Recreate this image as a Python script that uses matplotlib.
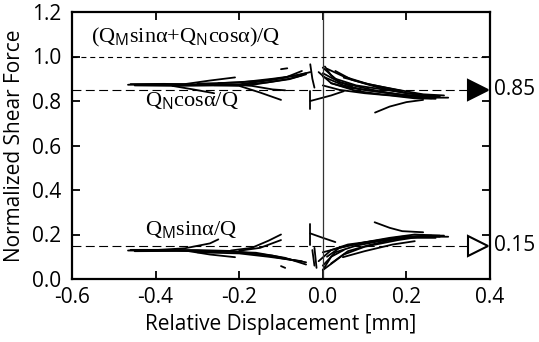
import matplotlib
matplotlib.use('Agg')
import matplotlib.pyplot as plt

# traced load paths, each curve = (displacement [mm], normalized shear force)
upper_left = [
    ([-0.466, -0.40, -0.30, -0.20, -0.12, -0.04], [0.873, 0.874, 0.872, 0.875, 0.895, 0.925]),
    ([-0.45, -0.35, -0.25, -0.17, -0.08, -0.05], [0.870, 0.868, 0.870, 0.872, 0.900, 0.915]),
    ([-0.46, -0.38, -0.30, -0.22], [0.876, 0.877, 0.875, 0.873]),
    ([-0.42, -0.33, -0.27, -0.21], [0.872, 0.876, 0.892, 0.906]),
    ([-0.36, -0.31, -0.26], [0.868, 0.852, 0.835]),
    ([-0.26, -0.20, -0.15, -0.10], [0.871, 0.868, 0.838, 0.805]),
    ([-0.22, -0.17, -0.12, -0.09], [0.874, 0.868, 0.852, 0.848]),
    ([-0.30, -0.20, -0.12, -0.06, -0.03], [0.878, 0.883, 0.900, 0.915, 0.930]),
    ([-0.25, -0.15, -0.09, -0.05], [0.880, 0.890, 0.905, 0.935]),
    ([-0.20, -0.13, -0.08, -0.04], [0.872, 0.884, 0.898, 0.920]),
    ([-0.10, -0.085], [0.943, 0.947]),
]
upper_right = [
    ([0.0, 0.03, 0.08, 0.15, 0.22, 0.28], [0.950, 0.900, 0.870, 0.850, 0.830, 0.820]),
    ([-0.01, 0.02, 0.06, 0.12, 0.20, 0.26, 0.30], [0.930, 0.880, 0.860, 0.845, 0.825, 0.815, 0.815]),
    ([0.0, 0.05, 0.10, 0.18, 0.25], [0.910, 0.870, 0.850, 0.830, 0.820]),
    ([0.01, 0.05, 0.11, 0.18, 0.24, 0.29], [0.945, 0.910, 0.875, 0.850, 0.830, 0.825]),
    ([0.05, 0.10, 0.15, 0.19], [0.905, 0.880, 0.860, 0.845]),
    ([0.0, 0.04, 0.09, 0.14, 0.21, 0.27], [0.925, 0.885, 0.862, 0.842, 0.822, 0.818]),
    ([0.03, 0.07, 0.13, 0.20, 0.27], [0.935, 0.895, 0.862, 0.835, 0.822]),
    ([-0.03, 0.02, 0.05], [0.800, 0.825, 0.844]),
    ([0.125, 0.16, 0.20, 0.24], [0.748, 0.775, 0.795, 0.805]),
    ([0.0, 0.04, 0.10, 0.16, 0.22, 0.27], [0.870, 0.850, 0.835, 0.825, 0.812, 0.810]),
    ([0.02, 0.08, 0.14, 0.20, 0.26], [0.880, 0.845, 0.830, 0.820, 0.812]),
    ([0.005, 0.02, 0.04, 0.07], [0.955, 0.915, 0.885, 0.865]),
    ([-0.03, -0.025, -0.02], [0.965, 0.900, 0.860]),
    ([-0.03, -0.03], [0.845, 0.765]),
]
lower_left = [
    ([-0.466, -0.40, -0.30, -0.20, -0.12, -0.06], [0.128, 0.128, 0.127, 0.122, 0.105, 0.080]),
    ([-0.45, -0.35, -0.25, -0.16, -0.09, -0.04], [0.125, 0.126, 0.124, 0.118, 0.095, 0.065]),
    ([-0.46, -0.38, -0.30, -0.22], [0.131, 0.131, 0.130, 0.126]),
    ([-0.40, -0.33, -0.27, -0.25], [0.130, 0.138, 0.160, 0.178]),
    ([-0.32, -0.27, -0.21], [0.125, 0.110, 0.098]),
    ([-0.22, -0.17, -0.13, -0.10], [0.128, 0.140, 0.172, 0.200]),
    ([-0.20, -0.15, -0.10], [0.127, 0.140, 0.175]),
    ([-0.30, -0.20, -0.13, -0.07, -0.04], [0.120, 0.115, 0.100, 0.085, 0.075]),
    ([-0.20, -0.14, -0.09, -0.05], [0.120, 0.108, 0.090, 0.080]),
    ([-0.10, -0.09], [0.058, 0.050]),
]
lower_right = [
    ([0.0, 0.03, 0.08, 0.15, 0.22, 0.30], [0.060, 0.120, 0.150, 0.175, 0.190, 0.190]),
    ([-0.01, 0.02, 0.06, 0.12, 0.20, 0.27], [0.080, 0.130, 0.155, 0.170, 0.185, 0.185]),
    ([0.0, 0.05, 0.10, 0.18, 0.25, 0.29], [0.040, 0.110, 0.145, 0.175, 0.195, 0.195]),
    ([0.01, 0.04, 0.10, 0.16, 0.22, 0.28], [0.100, 0.140, 0.165, 0.185, 0.200, 0.195]),
    ([0.02, 0.06, 0.11, 0.17, 0.23, 0.28], [0.070, 0.125, 0.152, 0.178, 0.192, 0.190]),
    ([0.048, 0.10, 0.167, 0.22], [0.098, 0.125, 0.155, 0.170]),
    ([-0.03, 0.0, 0.03], [0.205, 0.185, 0.166]),
    ([0.124, 0.16, 0.19, 0.24], [0.255, 0.230, 0.215, 0.210]),
    ([0.0, 0.06, 0.12, 0.19, 0.26], [0.120, 0.150, 0.170, 0.190, 0.195]),
    ([0.0, 0.02, 0.05], [0.040, 0.100, 0.130]),
    ([-0.03, -0.03], [0.245, 0.155]),
    ([-0.025, -0.02], [0.130, 0.060]),
    ([-0.02, -0.015], [0.140, 0.050]),
]

ref_levels = [0.85, 0.15]
ref_labels = ['0.85', '0.15']
ref_filled = [True, False]
marker_x = 0.372
total_level = 1.0

xticks = [-0.6, -0.4, -0.2, 0.0, 0.2, 0.4]
yticks = [0.0, 0.2, 0.4, 0.6, 0.8, 1.0, 1.2]

plt.rcParams['font.family'] = ['Open Sans', 'DejaVu Sans']
plt.rcParams['mathtext.fontset'] = 'custom'
plt.rcParams['mathtext.rm'] = 'Open Sans'
plt.rcParams['mathtext.sf'] = 'Open Sans'
plt.rcParams['mathtext.it'] = 'Open Sans:italic'

fig = plt.figure(figsize=(5.39, 3.42), dpi=100)
ax = fig.add_axes([72 / 539, 1 - 279 / 342, 418 / 539, 267 / 342])

for group in [upper_left, upper_right, lower_left, lower_right]:
    for xs, ys in group:
        ax.plot(xs, ys, color='black', lw=1.3, solid_capstyle='round')

ax.axvline(0.0, color='#333333', lw=0.9)
ax.axhline(total_level, color='black', lw=0.8, dashes=(4.5, 3.5))
for lev, lab, filled in zip(ref_levels, ref_labels, ref_filled):
    ax.plot([-0.6, marker_x], [lev, lev], color='black', lw=0.8, dashes=(8, 4))
    ax.plot([marker_x], [lev], marker='>', ms=14, mew=1.5,
            mfc='black' if filled else 'white', mec='black', clip_on=False)
    ax.text(1.01, lev, lab, transform=ax.get_yaxis_transform(),
            ha='left', va='center', fontsize=15)

serif = ['Liberation Serif', 'DejaVu Serif']
ax.text(-0.555, 1.085, '(Q$_{\\mathsf{M}}$sinα+Q$_{\\mathsf{N}}$cosα)/Q',
        family=serif, fontsize=16, va='center')
ax.text(-0.425, 0.80, 'Q$_{\\mathsf{N}}$cosα/Q', family=serif, fontsize=16, va='center')
ax.text(-0.425, 0.22, 'Q$_{\\mathsf{M}}$sinα/Q', family=serif, fontsize=16, va='center')

ax.set_xlim(-0.6, 0.4)
ax.set_ylim(0.0, 1.2)
ax.set_xticks(xticks)
ax.set_yticks(yticks)
ax.set_xticklabels([f'{v:.1f}' for v in xticks])
ax.set_yticklabels([f'{v:.1f}' for v in yticks])
ax.tick_params(direction='in', length=6, width=1.3, top=True, right=True,
               labelsize=15, pad=6)
ax.tick_params(axis='y', pad=8)
for s in ax.spines.values():
    s.set_linewidth(1.6)

ax.set_xlabel('Relative Displacement [mm]', fontsize=15, labelpad=4)
ax.set_ylabel('Normalized Shear Force', fontsize=15, labelpad=5)

fig.savefig('out.png', dpi=100, facecolor='white')
